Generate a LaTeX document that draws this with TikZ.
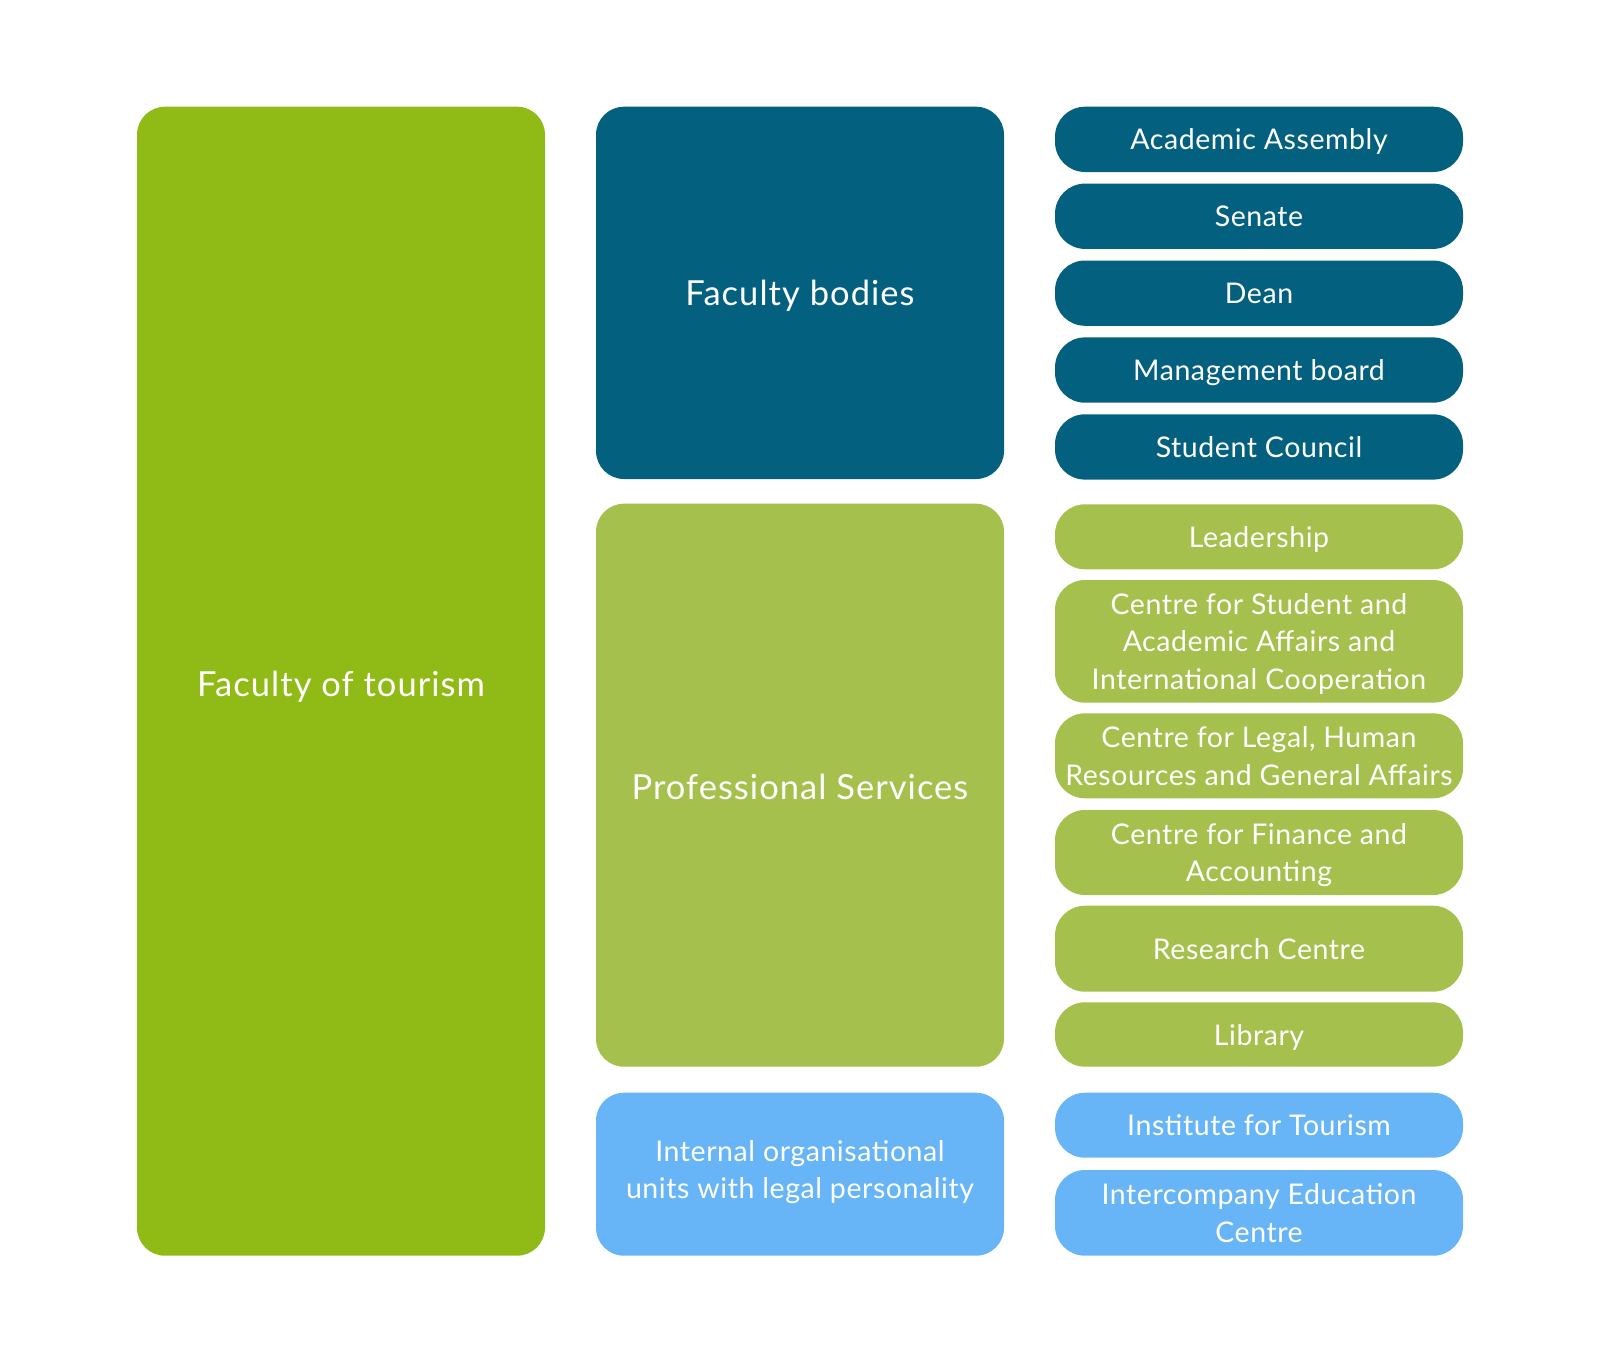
\documentclass[tikz,border=0pt]{standalone}
\usepackage{fontspec}
\setmainfont{Lato}
\definecolor{tourism}{HTML}{90BA16}
\definecolor{teal}{HTML}{04607F}
\definecolor{lgreen}{HTML}{A5C04C}
\definecolor{lblue}{HTML}{67B5F6}
\newcommand{\pillfont}{\fontsize{28.5}{37.5}\selectfont\addfontfeature{LetterSpace=2}}
\newcommand{\bigfont}{\fontsize{34.5}{42}\selectfont\addfontfeature{LetterSpace=3}}
\tikzset{
  box/.style={rounded corners=28pt, inner sep=0pt, align=center, text=white, minimum width=408pt, draw=none},
  bigbox/.style={box, font=\bigfont, text depth=0pt},
  midbox/.style={box, font=\pillfont},
  pill/.style={box, rounded corners=30pt, font=\pillfont, text depth=0pt},
}
\begin{document}
\begin{tikzpicture}[x=1pt,y=-1pt]
\useasboundingbox (0,0) rectangle (1600,1363);
% left column
\node[bigbox, fill=tourism, minimum height=1149pt, text height=31pt] (fot) at (341,681.2) {Faculty of tourism};
% middle column
\node[bigbox, fill=teal, minimum height=372.3pt] (fb) at (800,292.85) {Faculty bodies};
\node[bigbox, fill=lgreen, minimum height=563pt, text height=29pt] (ps) at (800,785.2) {Professional Services};
\node[midbox, fill=lblue, minimum height=163pt, text depth=9.5pt] (iou) at (800,1174.2) {Internal organisational\\units with legal personality};
% right column - faculty bodies
\node[pill, fill=teal, minimum height=65.3pt] (aa) at (1259,139.35) {Academic Assembly};
\node[pill, fill=teal, minimum height=65.3pt] (sen) at (1259,216.25) {Senate};
\node[pill, fill=teal, minimum height=65.3pt] (dean) at (1259,293.15) {Dean};
\node[pill, fill=teal, minimum height=65.3pt] (mb) at (1259,370.05) {Management board};
\node[pill, fill=teal, minimum height=65.3pt] (sc) at (1259,446.95) {Student Council};
% right column - professional services
\node[pill, fill=lgreen, minimum height=65pt] (lead) at (1259,536.8) {Leadership};
\node[pill, fill=lgreen, minimum height=122.7pt] (csa) at (1259,641.35) {Centre for Student and\\Academic Affairs and\\International Cooperation};
\node[pill, fill=lgreen, minimum height=85pt] (clh) at (1259,755.8) {Centre for Legal, Human\\Resources and General Affairs};
\node[pill, fill=lgreen, minimum height=85pt] (cfa) at (1259,852.5) {Centre for Finance and\\Accounting};
\node[pill, fill=lgreen, minimum height=86pt] (rc) at (1259,948.7) {Research Centre};
\node[pill, fill=lgreen, minimum height=64.4pt] (lib) at (1259,1034.5) {Library};
% right column - internal units
\node[pill, fill=lblue, minimum height=65pt] (it) at (1259,1125.2) {Institute for Tourism};
\node[pill, fill=lblue, minimum height=85.7pt] (iec) at (1259,1212.85) {Intercompany Education\\Centre};
\end{tikzpicture}
\end{document}
